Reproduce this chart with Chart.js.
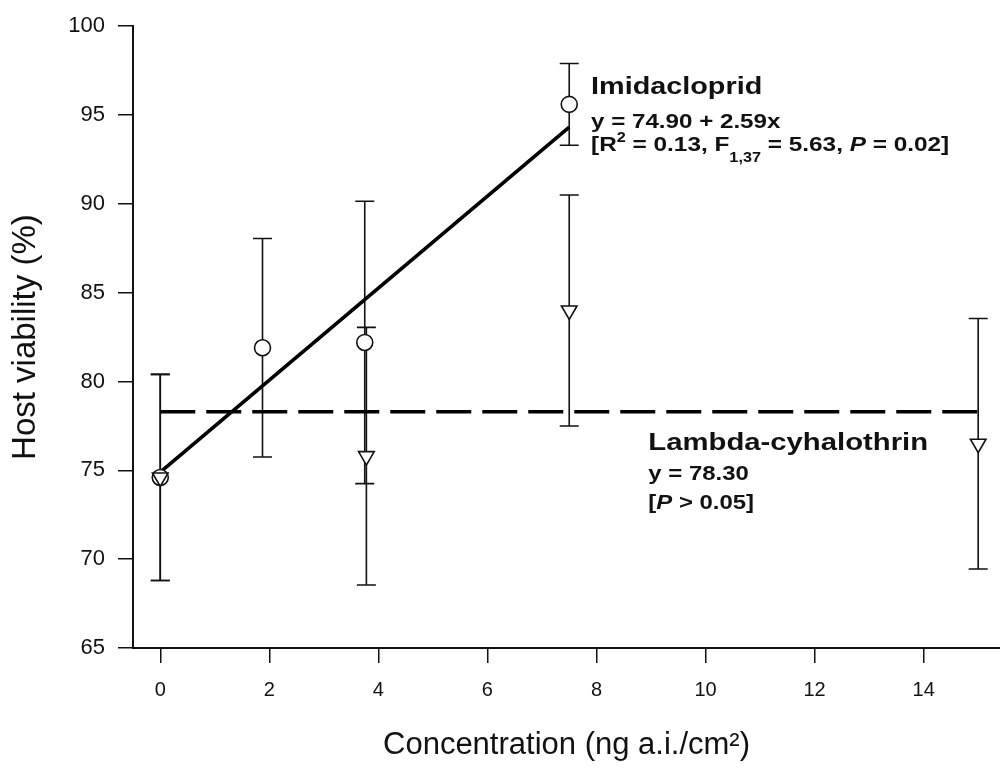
<!DOCTYPE html>
<html>
<head>
<meta charset="utf-8">
<script src="https://cdn.jsdelivr.net/npm/chart.js@4"></script>
<style>
  body { margin: 0; background: #fff; }
  #wrap { width: 1000px; height: 769px; }
</style>
</head>
<body>
<div id="wrap"><canvas id="myChart" width="1000" height="769"></canvas></div>
<script>
// mean viability (%) and error half-widths per dose
const imidaDose = [0, 1.875, 3.75, 7.5];
const imidaMean = [74.6, 81.9, 82.2, 95.6];
const imidaErr = [5.8, 6.15, 7.95, 2.3];

const lambdaDose = [0, 3.78, 7.5, 15];
const lambdaMean = [74.6, 75.8, 84.0, 76.5];
const lambdaErr = [5.8, 7.25, 6.5, 7.05];

// fitted models
const fitIntercept = 74.90;
const fitSlope = 2.59;
const fitRange = [0, 7.5];
const lambdaLevel = 78.30;
const levelRange = [0, 15];

const xTicks = [0, 2, 4, 6, 8, 10, 12, 14];
const yTicks = [65, 70, 75, 80, 85, 90, 95, 100];

const family = '"Liberation Sans", Arial, sans-serif';
const ink = '#111';

function pts(xs, ys) {
  return xs.map((v, i) => ({ x: v, y: ys[i] }));
}

// error bars with caps, drawn under the markers
const errorBars = {
  id: 'errorBars',
  beforeDatasetsDraw(chart) {
    const { ctx, scales: { x, y } } = chart;
    ctx.save();
    ctx.strokeStyle = ink;
    ctx.lineWidth = 1.6;
    [[imidaDose, imidaMean, imidaErr], [lambdaDose, lambdaMean, lambdaErr]].forEach(([d, m, e]) => {
      d.forEach((v, i) => {
        const px = x.getPixelForValue(v);
        const top = y.getPixelForValue(m[i] + e[i]);
        const bot = y.getPixelForValue(m[i] - e[i]);
        ctx.beginPath();
        ctx.moveTo(px, top); ctx.lineTo(px, bot);
        ctx.moveTo(px - 9.5, top); ctx.lineTo(px + 9.5, top);
        ctx.moveTo(px - 9.5, bot); ctx.lineTo(px + 9.5, bot);
        ctx.stroke();
      });
    });
    ctx.restore();
  }
};

// bold text runs with sub/superscripts, slightly widened
function drawRuns(ctx, x, y, runs, size, sx) {
  ctx.save();
  ctx.translate(x, y);
  ctx.scale(sx, 1);
  ctx.fillStyle = ink;
  ctx.textBaseline = 'alphabetic';
  let cx = 0;
  runs.forEach(r => {
    const small = r.sup || r.sub;
    const fs = small ? Math.round(size * 0.66) : size;
    ctx.font = (r.italic ? 'italic ' : '') + 'bold ' + fs + 'px ' + family;
    const dy = r.sup ? -size * 0.43 : (r.sub ? size * 0.52 : 0);
    ctx.fillText(r.t, cx, dy);
    cx += ctx.measureText(r.t).width;
  });
  ctx.restore();
}

const notes = {
  id: 'notes',
  afterDraw(chart) {
    const { ctx, scales: { x, y } } = chart;
    const ix = x.getPixelForValue(7.9), iy = y.getPixelForValue(96.2);
    drawRuns(ctx, ix, iy, [{ t: 'Imidacloprid' }], 24, 1.2);
    drawRuns(ctx, ix, iy + 34, [{ t: 'y = ' + fitIntercept.toFixed(2) + ' + ' + fitSlope.toFixed(2) + 'x' }], 21, 1.15);
    drawRuns(ctx, ix, iy + 57, [
      { t: '[R' }, { t: '2', sup: true }, { t: ' = 0.13, F' }, { t: '1,37', sub: true },
      { t: ' = 5.63, ' }, { t: 'P', italic: true }, { t: ' = 0.02]' }
    ], 21, 1.16);

    const lx = x.getPixelForValue(8.95), ly = y.getPixelForValue(76.16);
    drawRuns(ctx, lx, ly, [{ t: 'Lambda-cyhalothrin' }], 24, 1.22);
    drawRuns(ctx, lx, ly + 30, [{ t: 'y = ' + lambdaLevel.toFixed(2) }], 21, 1.14);
    drawRuns(ctx, lx, ly + 59, [{ t: '[' }, { t: 'P', italic: true }, { t: ' > 0.05]' }], 21, 1.14);
  }
};

const ctx = document.getElementById('myChart');
new Chart(ctx, {
  type: 'scatter',
  data: {
    datasets: [
      {
        label: 'Lambda-cyhalothrin',
        data: pts(lambdaDose, lambdaMean),
        pointStyle: 'triangle',
        rotation: 180,
        pointRadius: 9,
        pointBorderWidth: 1.6,
        pointBorderColor: ink,
        pointBackgroundColor: '#fff',
        order: 0
      },
      {
        label: 'Imidacloprid',
        data: pts(imidaDose, imidaMean),
        pointStyle: 'circle',
        pointRadius: 8,
        pointBorderWidth: 1.6,
        pointBorderColor: ink,
        pointBackgroundColor: '#fff',
        order: 1
      },
      {
        label: 'fit',
        data: pts(fitRange, fitRange.map(v => fitIntercept + fitSlope * v)),
        showLine: true,
        borderColor: '#000',
        borderWidth: 3.6,
        pointRadius: 0,
        order: 3
      },
      {
        label: 'level',
        data: pts(levelRange, levelRange.map(() => lambdaLevel)),
        showLine: true,
        borderColor: '#000',
        borderWidth: 3.6,
        borderDash: [35, 11],
        pointRadius: 0,
        order: 3
      }
    ]
  },
  options: {
    responsive: false,
    animation: false,
    layout: { autoPadding: false, padding: { top: 21, right: 0, bottom: 0, left: 0 } },
    plugins: { legend: { display: false }, tooltip: { enabled: false } },
    scales: {
      x: {
        type: 'linear',
        min: -0.5,
        max: 15.4,
        afterBuildTicks: s => { s.ticks = xTicks.map(v => ({ value: v })); },
        afterFit: s => { s.height = 121; },
        grid: { drawOnChartArea: false, tickLength: 15, color: ink, lineWidth: 1.5 },
        border: { color: ink, width: 2 },
        ticks: { padding: 15, color: ink, font: { size: 20, family: family } },
        title: {
          display: true,
          text: 'Concentration (ng a.i./cm²)',
          color: ink,
          font: { size: 31, family: family },
          padding: { top: 0, bottom: 5 }
        }
      },
      y: {
        min: 65,
        max: 100,
        afterBuildTicks: s => { s.ticks = yTicks.map(v => ({ value: v })); },
        afterFit: s => { s.width = 133; },
        grid: { drawOnChartArea: false, tickLength: 15, color: ink, lineWidth: 1.5 },
        border: { color: ink, width: 2 },
        ticks: { padding: 13, color: ink, font: { size: 22, family: family } },
        title: {
          display: true,
          text: 'Host viability (%)',
          color: ink,
          font: { size: 33, family: family },
          padding: { top: 6, bottom: 0 }
        }
      }
    }
  },
  plugins: [errorBars, notes]
});
</script>
</body>
</html>
